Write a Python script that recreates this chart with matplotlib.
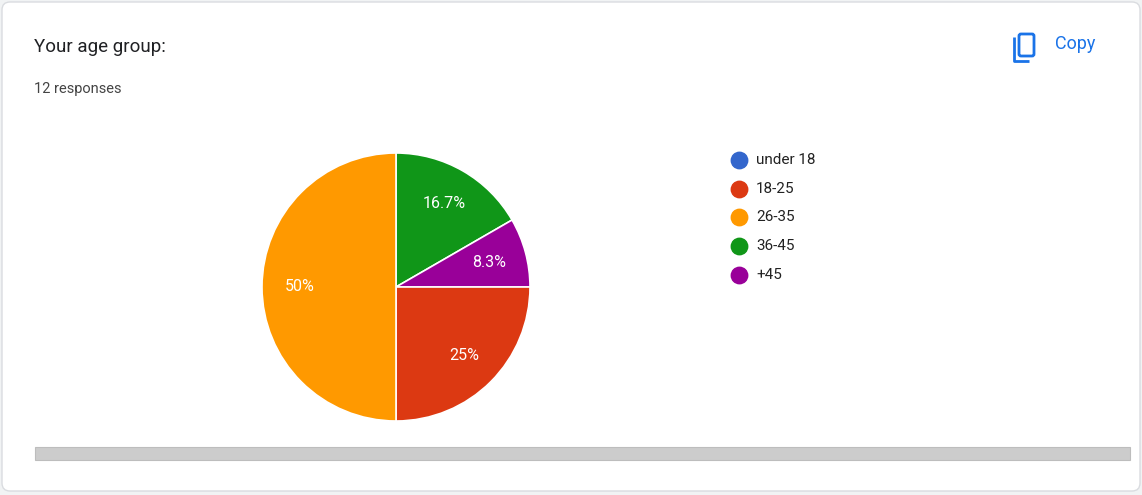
import matplotlib
import matplotlib.pyplot as plt
import numpy as np
from matplotlib.patches import Rectangle, FancyBboxPatch

matplotlib.use("Agg")

# data
legend_labels = ["under 18", "18-25", "26-35", "36-45", "+45"]
legend_colors = ["#3366cc", "#dc3912", "#ff9900", "#109618", "#990099"]
counts = [0, 3, 6, 2, 1]
# clockwise drawing order from 12 o'clock, as in the reference
draw_order = [3, 4, 1, 2]

W, H = 1142, 495
fig = plt.figure(figsize=(W / 100, H / 100), dpi=100)
fig.patch.set_facecolor("#f1f3f4")

bg = fig.add_axes([0, 0, 1, 1])
bg.set_xlim(0, W)
bg.set_ylim(H, 0)
bg.axis("off")
bg.add_patch(FancyBboxPatch((2, 2), W - 4, H - 6, boxstyle="round,pad=0,rounding_size=8",
                            facecolor="white", edgecolor="#dadce0", lw=1))
bg.add_patch(Rectangle((35, 447), 1095, 13, facecolor="#cccccc", edgecolor="#bdbdbd", lw=0.8))

bg.text(34, 47, "Your age group:", fontsize=13.5, color="#202124", va="center", family="Roboto")
bg.text(34, 89, "12 responses", fontsize=10.5, color="#444444", va="center", family="Roboto")

# copy icon + label
bg.add_patch(FancyBboxPatch((1019, 34), 15, 22, boxstyle="round,pad=0,rounding_size=2",
                            facecolor="none", edgecolor="#1a73e8", lw=2))
bg.plot([1014, 1014, 1029], [37, 61, 61], color="#1a73e8", lw=2, solid_capstyle="butt")
bg.text(1055, 44, "Copy", fontsize=13, color="#1a73e8", va="center", family="Roboto")

# legend
for i, (lab, col) in enumerate(zip(legend_labels, legend_colors)):
    y = 160 + i * 28.7
    bg.scatter([739], [y], s=140, color=col, zorder=3)
    bg.text(756, y, lab, fontsize=11, color="#222222", va="center", family="Roboto")

# pie
ax = fig.add_axes([262 / W, (H - 421) / H, 268 / W, 268 / H])
vals = [counts[i] for i in draw_order]
cols = [legend_colors[i] for i in draw_order]
total = sum(counts)


def fmt(p):
    return f"{p:.0f}%" if abs(p - round(p)) < 0.05 else f"{p:.1f}%"


wedges, texts = ax.pie(vals, colors=cols, startangle=90, counterclock=False, radius=1,
                       wedgeprops=dict(edgecolor="white", linewidth=1.2))
for w, v in zip(wedges, vals):
    ang = np.deg2rad((w.theta1 + w.theta2) / 2)
    r = 0.72
    ax.text(r * np.cos(ang), r * np.sin(ang), fmt(100 * v / total), color="white",
            fontsize=11.5, ha="center", va="center", family="Roboto")
ax.set_xlim(-1, 1)
ax.set_ylim(-1, 1)
ax.set_aspect("equal")

fig.savefig("out.png", dpi=100, facecolor=fig.get_facecolor())
